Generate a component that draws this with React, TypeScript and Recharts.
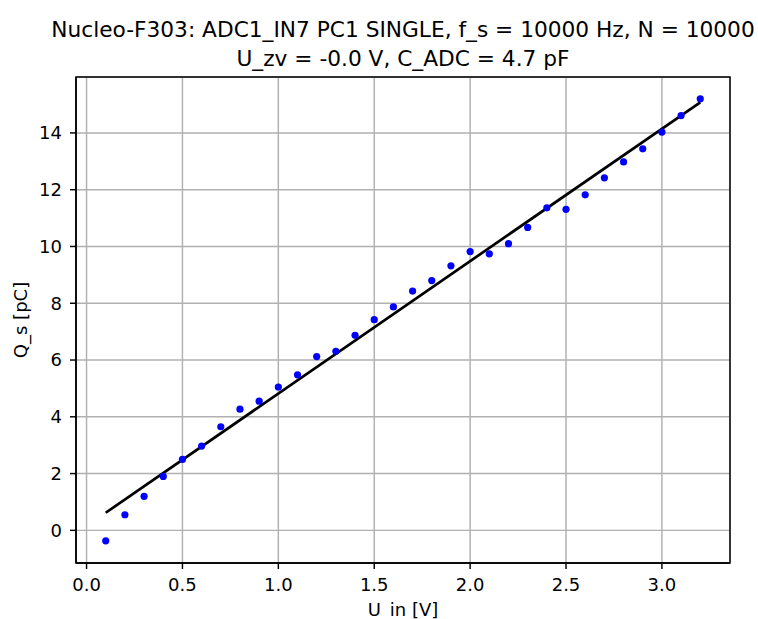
import { ComposedChart, Scatter, Line, XAxis, YAxis, CartesianGrid, ReferenceArea } from 'recharts'

const U_IN = [0.1, 0.2, 0.3, 0.4, 0.5, 0.6, 0.7, 0.8, 0.9, 1.0, 1.1, 1.2, 1.3, 1.4, 1.5, 1.6, 1.7, 1.8, 1.9, 2.0, 2.1, 2.2, 2.3, 2.4, 2.5, 2.6, 2.7, 2.8, 2.9, 3.0, 3.1, 3.2]
const Q_S = [-0.37, 0.55, 1.2, 1.9, 2.5, 2.97, 3.65, 4.27, 4.55, 5.05, 5.48, 6.12, 6.31, 6.87, 7.42, 7.87, 8.43, 8.8, 9.32, 9.82, 9.74, 10.1, 10.67, 11.36, 11.31, 11.82, 12.42, 12.98, 13.44, 14.03, 14.61, 15.2]

// fitted line, end points
const FIT_U = [0.1, 3.2]
const FIT_Q = [0.62, 15.08]

const X_TICKS = [0, 0.5, 1.0, 1.5, 2.0, 2.5, 3.0]
const Y_TICKS = [0, 2, 4, 6, 8, 10, 12, 14]

const X_DOMAIN = [-0.055, 3.355]
const Y_DOMAIN = [-1.15, 15.97]

const points = U_IN.map((x, i) => ({ x, y: Q_S[i] }))
const fitLine = FIT_U.map((x, i) => ({ x, y: FIT_Q[i] }))

const FONT = 'DejaVu Sans'
const tickStyle = { fill: '#000', fontSize: 18, fontFamily: FONT }

const Dot = (props: any) => <circle cx={props.cx} cy={props.cy} r={3.6} fill="#0000ff" />

export default function App() {
  return (
    <div style={{ position: 'absolute', left: 0, top: 0, width: 758, height: 619, overflow: 'hidden', background: '#fff' }}>
      <ComposedChart width={758} height={619} margin={{ top: 77, right: 28, bottom: 0, left: 0 }}>
        <CartesianGrid stroke="#b0b0b0" strokeWidth={1.45} />
        <XAxis
          type="number"
          dataKey="x"
          domain={X_DOMAIN}
          ticks={X_TICKS}
          interval={0}
          allowDataOverflow
          height={56}
          tickSize={6}
          tickMargin={9}
          tickFormatter={(v: number) => v.toFixed(1)}
          tick={tickStyle}
          stroke="#000"
          strokeWidth={1.45}
        />
        <YAxis
          type="number"
          dataKey="y"
          domain={Y_DOMAIN}
          ticks={Y_TICKS}
          interval={0}
          allowDataOverflow
          width={76}
          tickSize={6}
          tickMargin={8}
          tick={tickStyle}
          stroke="#000"
          strokeWidth={1.45}
        />
        <Scatter data={points} dataKey="y" shape={Dot} isAnimationActive={false} />
        <Line data={fitLine} dataKey="y" stroke="#000" strokeWidth={2.7} dot={false} activeDot={false} isAnimationActive={false} />
        <ReferenceArea x1={X_DOMAIN[0]} x2={X_DOMAIN[1]} y1={Y_DOMAIN[0]} y2={Y_DOMAIN[1]} fill="none" stroke="#000" strokeWidth={1.45} fillOpacity={0} />
      </ComposedChart>
      <svg width={758} height={619} style={{ position: 'absolute', left: 0, top: 0, pointerEvents: 'none' }}>
        <g fontFamily={FONT} fill="#000">
          <text x={403} y={37} fontSize={21.7} textAnchor="middle">Nucleo-F303: ADC1_IN7 PC1 SINGLE, f_s = 10000 Hz, N = 10000</text>
          <text x={403} y={65.5} fontSize={21.7} textAnchor="middle">U_zv = -0.0 V, C_ADC = 4.7 pF</text>
          <text x={403} y={616} fontSize={18} textAnchor="middle">U_in [V]</text>
          <text x={27} y={320} fontSize={18} textAnchor="middle" transform="rotate(-90 27 320)">Q_s [pC]</text>
        </g>
      </svg>
    </div>
  )
}
